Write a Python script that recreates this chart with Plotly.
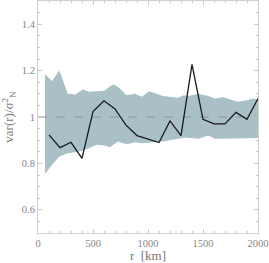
import plotly.graph_objects as go

# black line: var(r)/sigma^2 measured
r_km = [100, 200, 300, 400, 500, 600, 700, 800, 900, 1000,
        1100, 1200, 1300, 1400, 1500, 1600, 1700, 1800, 1900, 2000]
var_ratio = [0.923, 0.868, 0.891, 0.822, 1.023, 1.070, 1.035, 0.965, 0.920, 0.905,
             0.890, 0.983, 0.920, 1.227, 0.990, 0.970, 0.970, 1.020, 0.990, 1.080]

# shaded band (upper / lower envelope)
band_r = [64, 127, 194, 270, 339, 406, 466, 535, 603, 655, 685, 727, 806, 882, 943,
          1012, 1136, 1273, 1327, 1366, 1457, 1548, 1609, 1682, 1761, 1818, 1909, 1955, 2000]
band_hi = [1.184, 1.155, 1.200, 1.100, 1.097, 1.119, 1.109, 1.111, 1.113, 1.133, 1.140, 1.130,
           1.094, 1.100, 1.087, 1.111, 1.090, 1.083, 1.094, 1.091, 1.100, 1.090, 1.080, 1.085,
           1.075, 1.066, 1.073, 1.080, 1.073]
band_lo = [0.754, 0.794, 0.830, 0.844, 0.848, 0.854, 0.866, 0.880, 0.877, 0.870, 0.880, 0.894,
           0.883, 0.891, 0.887, 0.890, 0.894, 0.906, 0.911, 0.911, 0.906, 0.920, 0.906, 0.906,
           0.906, 0.906, 0.906, 0.907, 0.909]

ref_x = [0, 2000]
ref_y = [1.0, 1.0]

fig = go.Figure()
fig.add_trace(go.Scatter(x=band_r, y=band_lo, mode="lines", line=dict(width=0),
                         showlegend=False, hoverinfo="skip"))
fig.add_trace(go.Scatter(x=band_r, y=band_hi, mode="lines", line=dict(width=0),
                         fill="tonexty", fillcolor="rgb(169,192,198)",
                         showlegend=False, hoverinfo="skip"))
fig.add_trace(go.Scatter(x=ref_x, y=ref_y, mode="lines",
                         line=dict(color="rgb(140,150,155)", width=1, dash="dash"),
                         showlegend=False))
fig.add_trace(go.Scatter(x=r_km, y=var_ratio, mode="lines",
                         line=dict(color="#1a1a1a", width=1.3), showlegend=False))

FAM = "Liberation Serif"
font = dict(family=FAM, size=10, color="#777")
axis_common = dict(showline=True, linecolor="#d0d0d0", linewidth=1, mirror="allticks",
                   ticks="inside", ticklen=4, tickcolor="#c8c8c8", showgrid=False,
                   zeroline=False, automargin=False, ticklabeloverflow="allow",
                   tickfont=dict(family=FAM, size=10.5, color="#888"))
fig.update_layout(
    width=269, height=263,
    margin=dict(l=38, r=11, t=1, b=30),
    paper_bgcolor="white", plot_bgcolor="white",
    font=font,
    xaxis=dict(range=[0, 2000], dtick=500, tick0=0,
               minor=dict(dtick=100, ticks="inside", ticklen=2, tickcolor="#c8c8c8"),
               title=dict(text="r  [km]", standoff=3,
                          font=dict(family=FAM, size=13, color="#777")),
               **axis_common),
    yaxis=dict(range=[0.5, 1.5], dtick=0.2, tick0=0.6,
               minor=dict(dtick=0.05, ticks="inside", ticklen=2, tickcolor="#c8c8c8"),
               title=dict(text="var(r)/σ<sup>2</sup><sub>N</sub>", standoff=6,
                          font=dict(family=FAM, size=13, color="#777")),
               **axis_common),
)
fig.write_html("out.html", config={"displayModeBar": False},
               post_script="document.body.style.margin='0';")
